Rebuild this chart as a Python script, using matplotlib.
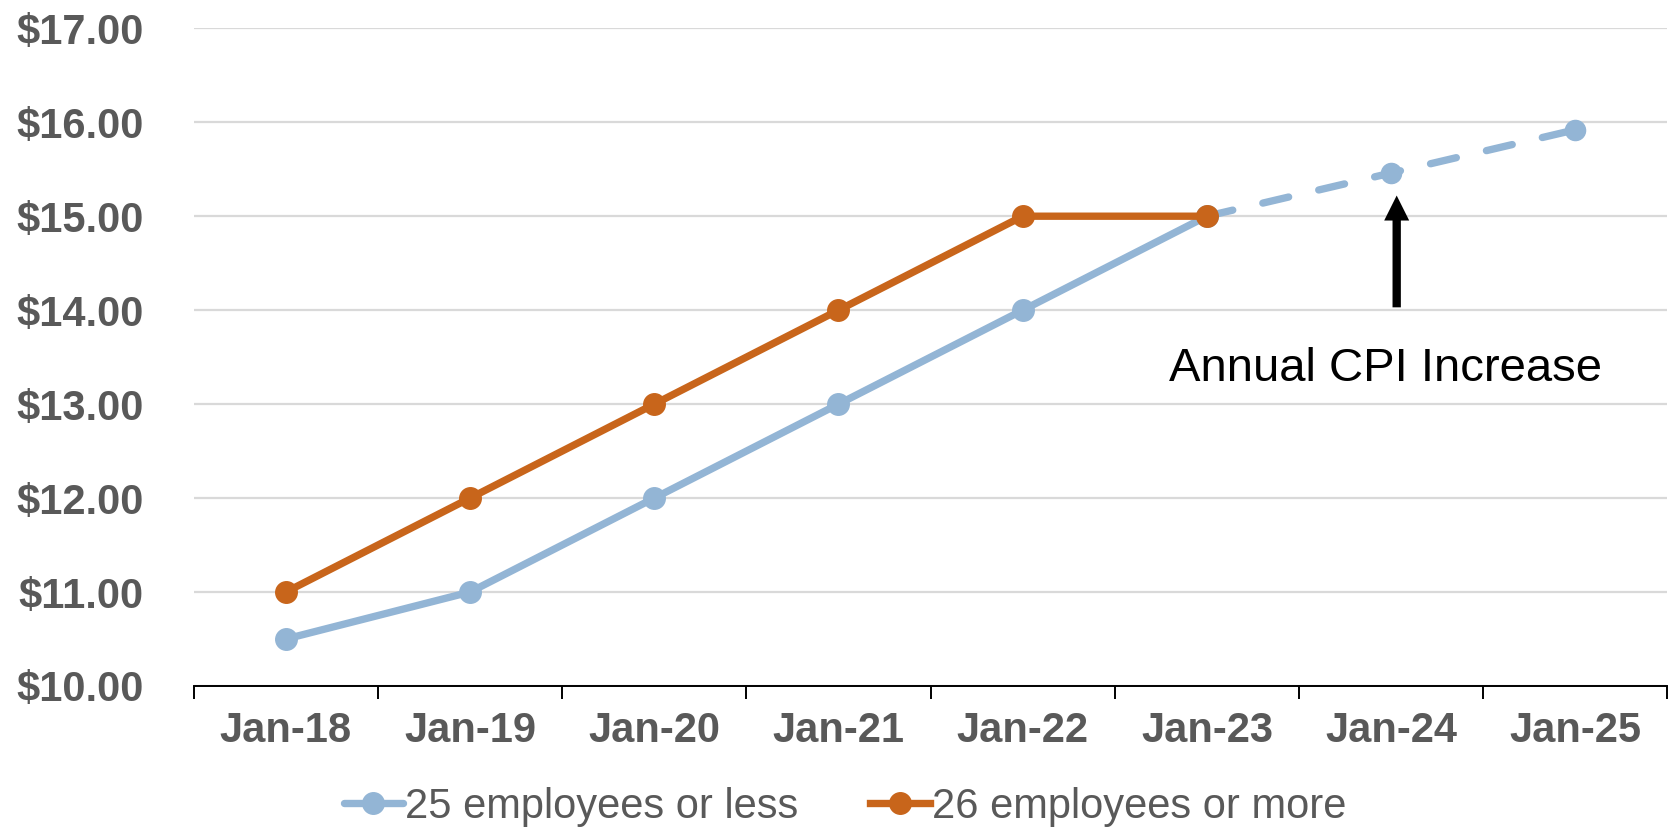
import numpy as np
import matplotlib
matplotlib.use("Agg")
import matplotlib.pyplot as plt

# ===== Data ==================================================================
months = ["Jan-18", "Jan-19", "Jan-20", "Jan-21", "Jan-22", "Jan-23", "Jan-24", "Jan-25"]
small_emp = [10.5, 11.0, 12.0, 13.0, 14.0, 15.0, np.nan, np.nan]
small_emp_cpi = [np.nan, np.nan, np.nan, np.nan, np.nan, 15.0, 15.46, 15.92]
large_emp = [11.0, 12.0, 13.0, 14.0, 15.0, 15.0, np.nan, np.nan]
y_ticks = [10, 11, 12, 13, 14, 15, 16, 17]

BLUE = "#93B5D5"
ORANGE = "#C8651B"
GRAY = "#595959"

plt.rcParams['font.family'] = ['Liberation Sans', 'DejaVu Sans']

fig = plt.figure(figsize=(16.7, 8.32), dpi=100)
ax = fig.add_axes([0.116, 0.1755, 0.8825, 0.7905])

x = np.arange(len(months))

ax.plot(x, small_emp, color=BLUE, lw=5.3, marker='o', ms=15.5,
        solid_capstyle='round', label="25 employees or less", zorder=3)
ax.plot(x, small_emp_cpi, color=BLUE, lw=5.3, marker='o', ms=14.5,
        dashes=(3.6, 4.2), dash_capstyle='round', zorder=2)
ax.plot(x, large_emp, color=ORANGE, lw=5.3, marker='o', ms=15.5,
        label="26 employees or more", zorder=4)

# Arrow + note
ax.annotate("", xy=(6.03, 15.22), xytext=(6.03, 14.03),
            arrowprops=dict(width=6, headwidth=18, headlength=18,
                            facecolor="black", edgecolor="none",
                            shrink=0))
ax.text(5.97, 13.245, "Annual CPI Increase", fontsize=34, color="black",
        ha='center', va='baseline')

# Axes styling
ax.set_xlim(-0.5, len(months) - 0.5)
ax.set_ylim(10, 17)
ax.set_yticks(y_ticks)
ax.set_yticklabels(["${:.2f}".format(v) for v in y_ticks], fontsize=30,
                   fontweight='bold', color=GRAY)
ax.set_xticks(x)
ax.set_xticklabels(months, fontsize=30, fontweight='bold', color=GRAY)
ax.set_xticks(np.arange(-0.5, len(months)), minor=True)
ax.tick_params(axis='x', which='major', length=0, pad=18)
ax.tick_params(axis='x', which='minor', length=9.4, width=1.4, color='black')
ax.tick_params(axis='y', length=0, pad=36)

ax.grid(axis='y', color="#D9D9D9", lw=1.6)
ax.set_axisbelow(True)
for s in ['top', 'right', 'left']:
    ax.spines[s].set_visible(False)
ax.spines['bottom'].set_color('black')
ax.spines['bottom'].set_linewidth(1.4)
ax.spines['bottom'].set_zorder(5)

fig.legend(loc='center', bbox_to_anchor=(0.506, 0.03), ncol=2,
           frameon=False, fontsize=30, handlelength=1.42, handletextpad=0.05,
           columnspacing=1.73, labelcolor=GRAY, borderpad=0, borderaxespad=0)

fig.savefig("out.png", dpi=100)
